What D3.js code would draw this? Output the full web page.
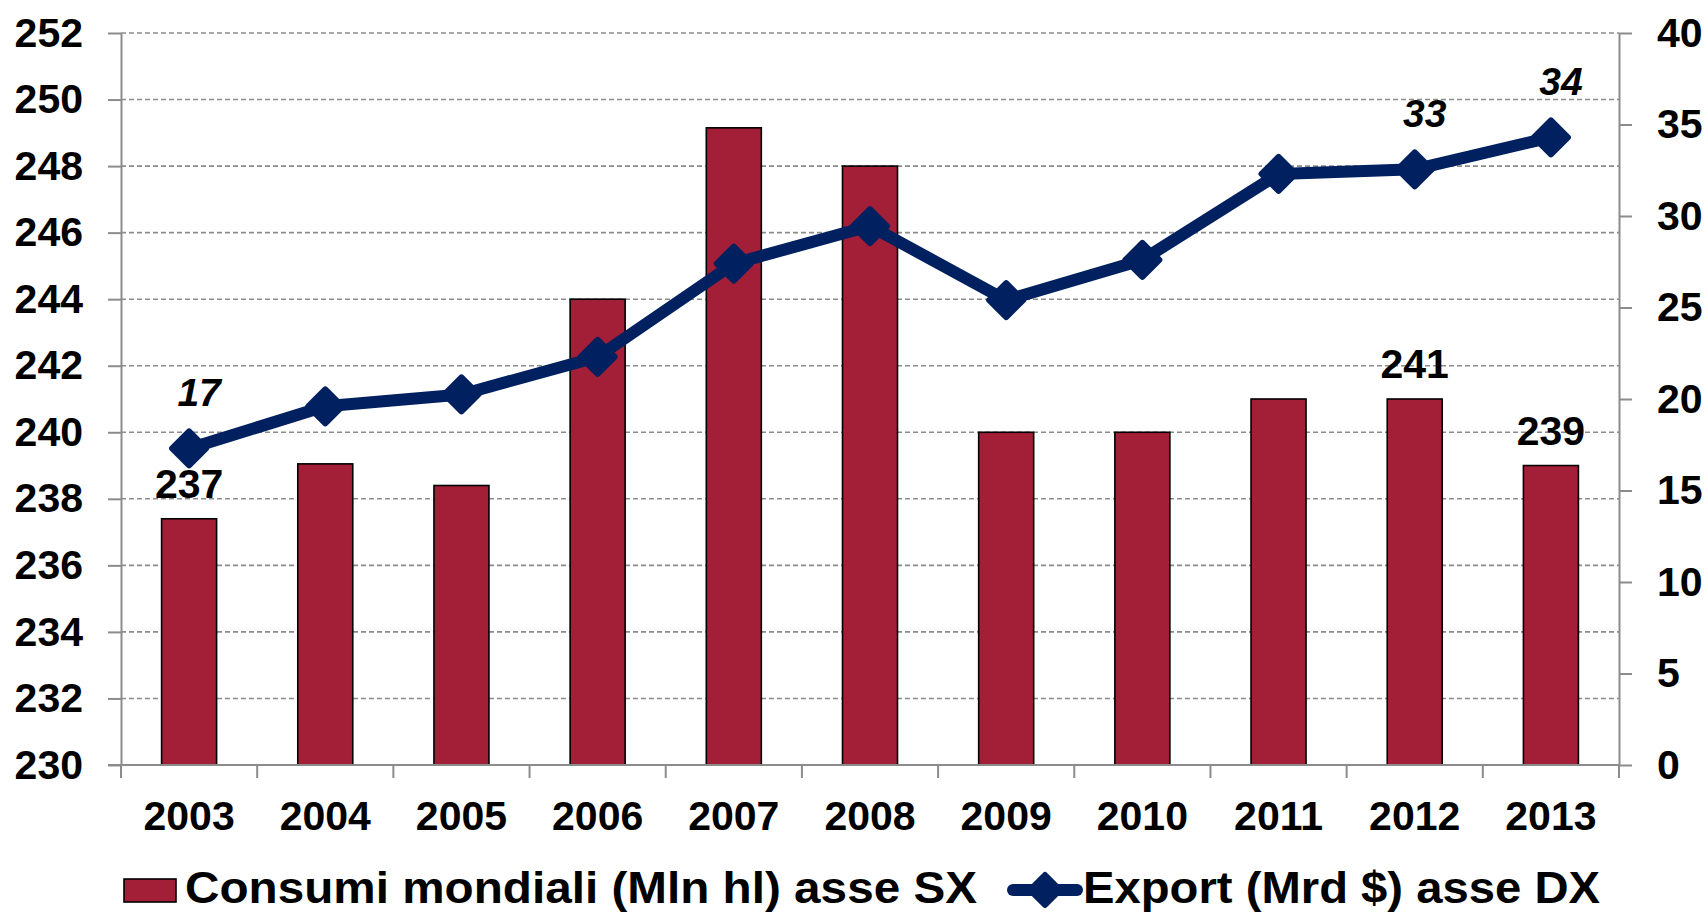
<!DOCTYPE html>
<html>
<head>
<meta charset="utf-8">
<script src="https://cdn.jsdelivr.net/npm/d3@7"></script>
<style>
  html, body { margin: 0; padding: 0; background: #fff; }
  svg { display: block; font-family: "Liberation Sans", Arial, sans-serif; font-weight: bold; }
</style>
</head>
<body>
<svg width="1708" height="915"></svg>
<script>
// data
var years = ["2003","2004","2005","2006","2007","2008","2009","2010","2011","2012","2013"];
var consumi = [237.4, 239.05, 238.4, 244.0, 249.15, 248.0, 240.0, 240.0, 241.0, 241.0, 239.0];
var exportVal = [17.3, 19.6, 20.25, 22.3, 27.4, 29.45, 25.4, 27.6, 32.3, 32.55, 34.3];
var leftTicks = [230,232,234,236,238,240,242,244,246,248,250,252];
var rightTicks = [0,5,10,15,20,25,30,35,40];
// which points get a value label
var barLabels = {"2003":"237", "2012":"241", "2013":"239"};
var lineLabels = {"2003":"17", "2012":"33", "2013":"34"};
var legendNames = ["Consumi mondiali (Mln hl) asse SX", "Export (Mrd $) asse DX"];

var barColor = "#A31F37", lineColor = "#002060", gridColor = "#8c8c8c";

var svg = d3.select("svg");
var pLeft = 121, pRight = 1619, pTop = 33, pBottom = 765;

var x = d3.scaleBand().domain(years).range([pLeft, pRight]).padding(0);
var yL = d3.scaleLinear().domain([230, 252]).range([pBottom, pTop]);
var yR = d3.scaleLinear().domain([0, 40]).range([pBottom, pTop]);
var barW = 55;

// dashed gridlines
svg.append("g").selectAll("line")
  .data(leftTicks.slice(1))
  .enter().append("line")
  .attr("x1", pLeft).attr("x2", pRight)
  .attr("y1", function(d){ return yL(d); })
  .attr("y2", function(d){ return yL(d); })
  .attr("stroke", gridColor)
  .attr("stroke-width", 1.6)
  .attr("stroke-dasharray", "5,3");

// bars
svg.append("g").selectAll("rect")
  .data(years)
  .enter().append("rect")
  .attr("x", function(d){ return x(d) + x.bandwidth()/2 - barW/2; })
  .attr("y", function(d,i){ return yL(consumi[i]); })
  .attr("width", barW)
  .attr("height", function(d,i){ return pBottom - yL(consumi[i]); })
  .attr("fill", barColor)
  .attr("stroke", "#000")
  .attr("stroke-width", 1.6);

// axes
function styleAxis(g){
  g.select(".domain").attr("stroke", gridColor).attr("stroke-width", 2);
  g.selectAll(".tick line").attr("stroke", gridColor).attr("stroke-width", 2);
  g.selectAll("text").attr("fill", "#000").attr("font-size", "41px")
    .attr("font-family", "Liberation Sans, Arial, sans-serif").attr("font-weight", "bold");
}

svg.append("g")
  .attr("transform", "translate(" + pLeft + ",0)")
  .call(d3.axisLeft(yL).tickValues(leftTicks).tickSize(13).tickSizeOuter(0).tickPadding(25))
  .call(styleAxis);

svg.append("g")
  .attr("transform", "translate(" + pRight + ",0)")
  .call(d3.axisRight(yR).tickValues(rightTicks).tickSize(13).tickSizeOuter(0).tickPadding(25))
  .call(styleAxis);

var xAxis = svg.append("g")
  .attr("transform", "translate(0," + pBottom + ")")
  .call(d3.axisBottom(x).tickSize(0).tickPadding(36))
  .call(styleAxis);
xAxis.select(".domain").attr("d", "M" + (pLeft - 13) + ",0H" + pRight);
// category boundary ticks
xAxis.selectAll("line.sep")
  .data(years.concat(["end"]))
  .enter().append("line").attr("class", "sep")
  .attr("x1", function(d,i){ return pLeft + i*x.step(); })
  .attr("x2", function(d,i){ return pLeft + i*x.step(); })
  .attr("y1", 0).attr("y2", 13)
  .attr("stroke", gridColor).attr("stroke-width", 2);

// line series
var lineGen = d3.line()
  .x(function(d,i){ return x(years[i]) + x.bandwidth()/2; })
  .y(function(d){ return yR(d); });

svg.append("path")
  .datum(exportVal)
  .attr("d", lineGen)
  .attr("fill", "none")
  .attr("stroke", lineColor)
  .attr("stroke-width", 12)
  .attr("stroke-linejoin", "round");

function diamond(r){ return "M0," + (-r) + "L" + r + ",0L0," + r + "L" + (-r) + ",0Z"; }

svg.append("g").selectAll("path")
  .data(exportVal)
  .enter().append("path")
  .attr("d", diamond(17))
  .attr("transform", function(d,i){ return "translate(" + (x(years[i]) + x.bandwidth()/2) + "," + yR(d) + ")"; })
  .attr("fill", lineColor)
  .attr("stroke", lineColor)
  .attr("stroke-width", 6)
  .attr("stroke-linejoin", "round");

// value labels
svg.append("g").selectAll("text")
  .data(years.filter(function(d){ return barLabels[d]; }))
  .enter().append("text")
  .attr("x", function(d){ return x(d) + x.bandwidth()/2; })
  .attr("y", function(d){ return yL(consumi[years.indexOf(d)]) - 21; })
  .attr("text-anchor", "middle")
  .attr("font-size", "41px")
  .text(function(d){ return barLabels[d]; });

svg.append("g").selectAll("text")
  .data(years.filter(function(d){ return lineLabels[d]; }))
  .enter().append("text")
  .attr("x", function(d){ return x(d) + x.bandwidth()/2 + 10; })
  .attr("y", function(d){ return yR(exportVal[years.indexOf(d)]) - 42; })
  .attr("text-anchor", "middle")
  .attr("font-size", "39px")
  .attr("font-style", "italic")
  .text(function(d){ return lineLabels[d]; });

// legend
var lg = svg.append("g");
lg.append("rect")
  .attr("x", 124).attr("y", 879).attr("width", 52).attr("height", 23)
  .attr("fill", barColor).attr("stroke", "#000").attr("stroke-width", 1.6);
lg.append("text")
  .attr("x", 185).attr("y", 903)
  .attr("font-size", "44px")
  .attr("textLength", 792).attr("lengthAdjust", "spacingAndGlyphs")
  .text(legendNames[0]);

lg.append("line")
  .attr("x1", 1013).attr("x2", 1077).attr("y1", 890).attr("y2", 890)
  .attr("stroke", lineColor).attr("stroke-width", 12).attr("stroke-linecap", "round");
lg.append("path")
  .attr("d", diamond(15))
  .attr("transform", "translate(1045,890)")
  .attr("fill", lineColor).attr("stroke", lineColor)
  .attr("stroke-width", 6).attr("stroke-linejoin", "round");
lg.append("text")
  .attr("x", 1083).attr("y", 903)
  .attr("font-size", "44px")
  .attr("textLength", 517).attr("lengthAdjust", "spacingAndGlyphs")
  .text(legendNames[1]);
</script>
</body>
</html>
